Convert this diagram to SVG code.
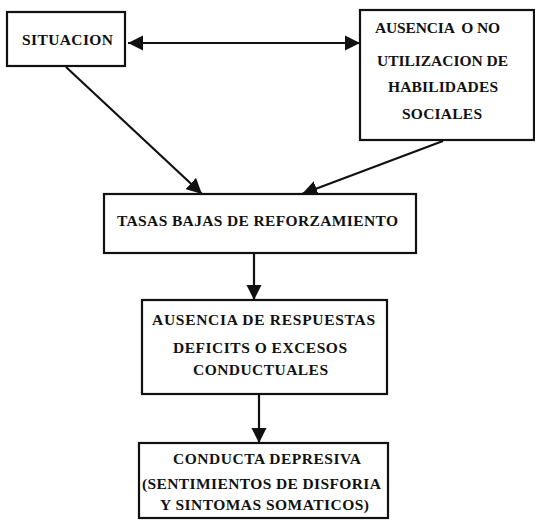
<svg xmlns="http://www.w3.org/2000/svg" width="535" height="520" viewBox="0 0 535 520">
<style>
.box{fill:#fff;stroke:#111;stroke-width:2.2}
.t{font-family:"Liberation Serif","Times New Roman",serif;font-weight:bold;font-size:15.5px;fill:#111}
.c{fill:none;stroke:#111;stroke-width:2.2}
</style>
<defs>
<marker id="ah2" viewBox="0 0 10 10" refX="10" refY="5" markerWidth="7" markerHeight="7" orient="auto-start-reverse" markerUnits="strokeWidth">
<path d="M0,0 L10,5 L0,10 z" fill="#111"/>
</marker>
</defs>
<rect width="535" height="520" fill="#fff"/>
<g id="connectors">
<line class="c" x1="128" y1="43" x2="360" y2="43" marker-start="url(#ah2)" marker-end="url(#ah2)"/>
<line class="c" x1="66" y1="67" x2="202" y2="194" marker-end="url(#ah2)"/>
<line class="c" x1="443" y1="141" x2="302" y2="194" marker-end="url(#ah2)"/>
<line class="c" x1="254" y1="253" x2="254" y2="300" marker-end="url(#ah2)"/>
<line class="c" x1="259" y1="394" x2="259" y2="443" marker-end="url(#ah2)"/>
</g>
<g id="situacion">
<rect class="box" x="7" y="12" width="118" height="54"/>
<text class="t" x="22" y="45" textLength="91" lengthAdjust="spacing">SITUACION</text>
</g>
<g id="ausencia-habilidades">
<rect class="box" x="360" y="10" width="174" height="130"/>
<text class="t" x="375" y="33" textLength="125" lengthAdjust="spacing" style="white-space:pre">AUSENCIA  O NO</text>
<text class="t" x="377" y="66" textLength="131" lengthAdjust="spacing">UTILIZACION DE</text>
<text class="t" x="388" y="92" textLength="110" lengthAdjust="spacing">HABILIDADES</text>
<text class="t" x="402" y="119" textLength="80" lengthAdjust="spacing">SOCIALES</text>
</g>
<g id="tasas">
<rect class="box" x="104" y="194" width="312" height="59"/>
<text class="t" x="117" y="226" textLength="281" lengthAdjust="spacing">TASAS BAJAS DE REFORZAMIENTO</text>
</g>
<g id="ausencia-respuestas">
<rect class="box" x="142" y="300" width="245" height="94"/>
<text class="t" x="152" y="325" textLength="223" lengthAdjust="spacing">AUSENCIA DE RESPUESTAS</text>
<text class="t" x="173" y="353" textLength="174" lengthAdjust="spacing">DEFICITS O EXCESOS</text>
<text class="t" x="193" y="375" textLength="135" lengthAdjust="spacing">CONDUCTUALES</text>
</g>
<g id="conducta-depresiva">
<rect class="box" x="139" y="443" width="249" height="75"/>
<text class="t" x="173" y="464" textLength="188" lengthAdjust="spacing">CONDUCTA DEPRESIVA</text>
<text class="t" x="142" y="489" textLength="239" lengthAdjust="spacing">(SENTIMIENTOS DE DISFORIA</text>
<text class="t" x="160" y="510" textLength="209" lengthAdjust="spacing">Y SINTOMAS SOMATICOS)</text>
</g>
</svg>
